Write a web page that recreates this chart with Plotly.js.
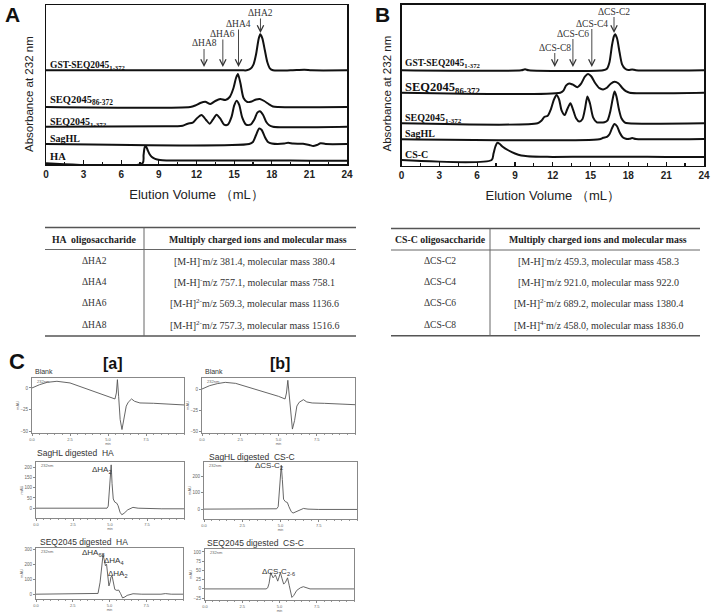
<!DOCTYPE html>
<html><head><meta charset="utf-8">
<script src="https://cdn.plot.ly/plotly-3.0.1.min.js"></script>
<style>html,body{margin:0;padding:0;background:#fff}#chart{width:713px;height:613px}</style>
</head><body><div id="chart"></div>
<script>
// ================= DATA =================
// Panel A: HA digests, elution volume (mL) vs relative absorbance at 232 nm
const aGstX   = [0, 10, 15.6, 16.0, 16.3, 16.55, 16.75, 16.95, 17.08, 17.25, 17.45, 17.65, 17.85, 18.1, 19.5, 20.6, 21.2, 24];
const aGstY   = [0, 0, 0, 0, 1.5, 6, 16, 31, 36, 32, 20, 8, 2, 0, 0, 0.6, 0, 0];
const aS86X   = [0, 11.5, 11.9, 12.3, 12.7, 13.1, 13.5, 13.9, 14.3, 14.65, 14.95, 15.15, 15.3, 15.5, 15.75, 16.05, 16.4, 16.75, 17.05, 17.4, 17.75, 18.1, 18.5, 24];
const aS86Y   = [0, 0, 1.5, 4, 5.3, 3, 6, 8, 7, 10, 19, 29, 33, 24, 9, 5, 5.5, 7.5, 8, 6, 3, 0.5, 0, 0];
const aS1X    = [0, 9.5, 10.5, 10.9, 11.3, 11.7, 12.0, 12.4, 12.75, 13.05, 13.3, 13.6, 13.9, 14.2, 14.5, 14.8, 15.0, 15.2, 15.4, 15.65, 15.95, 16.3, 16.6, 16.85, 17.05, 17.3, 17.55, 17.8, 18.1, 24];
const aS1Y    = [0, 0.5, 0.5, 1, 3, 4, 8, 11.7, 7, 3, 7, 12, 8, 2, 2, 10, 21, 26, 22, 9, 2, 2, 7, 14, 15.5, 12, 5, 1.5, 0, 0];
const aSagX   = [0, 16.2, 16.5, 16.75, 17.0, 17.2, 17.45, 17.7, 18.0, 19.0, 19.3, 19.7, 20.5, 21.0, 21.3, 21.6, 21.9, 22.3, 24];
const aSagY   = [0, 0, 2, 9, 15.5, 14, 7, 2, 0.5, 0.4, 1.3, 0.4, 0.2, -1, -2, -1, 0.8, 0, 0];
const aHaX    = [0, 7.7, 7.78, 7.88, 7.98, 8.1, 8.25, 8.42, 8.7, 9.09, 9.6, 10.5, 12, 15, 18, 21, 24];
const aHaY    = [0.7, 0.7, 9, 17, 17.3, 14, 10, 7.3, 5.2, 4, 3.6, 3.5, 3.4, 3.4, 3.5, 3.3, 3.3];
const aLabels = ['GST-SEQ2045<sub>1-372</sub>', 'SEQ2045<sub>86-372</sub>', 'SEQ2045<sub>1-372</sub>', 'SagHL', 'HA'];
const aPeakNames = ['ΔHA2', 'ΔHA4', 'ΔHA6', 'ΔHA8'];
const aPeakVol   = [17.1, 15.35, 14.1, 12.6];

// Panel B: CS-C digests
const bGstX   = [0, 9.5, 9.8, 10.1, 16.0, 16.3, 16.5, 16.7, 16.85, 16.95, 17.1, 17.3, 17.5, 17.75, 18.0, 18.3, 18.6, 24];
const bGstY   = [0, 0, 1, 0, 0, 1.5, 8, 25, 34, 36, 32, 18, 6, 1.5, 0.3, 0.8, 0, 0];
const bS86X   = [0, 12.6, 12.85, 13.05, 13.3, 13.6, 13.95, 14.25, 14.55, 14.8, 15.05, 15.35, 15.7, 16.0, 16.3, 16.6, 16.9, 17.2, 17.5, 17.8, 18.1, 24];
const bS86Y   = [0, 0, 2, 7, 9.3, 8, 5.5, 9, 16, 18.7, 16.5, 10, 4.5, 3.3, 5, 9, 11, 9.5, 5, 1.5, 0, 0];
const bS1X    = [0, 10.8, 11.1, 11.35, 11.6, 11.85, 12.1, 12.3, 12.5, 12.7, 12.95, 13.15, 13.4, 13.6, 13.85, 14.1, 14.35, 14.55, 14.75, 14.95, 15.2, 15.5, 15.8, 16.1, 16.35, 16.55, 16.75, 16.9, 17.05, 17.25, 17.45, 17.7, 18.0, 24];
const bS1Y    = [0, 0, 2.5, 6.5, 7.5, 14, 24, 28.3, 24, 13, 8.3, 14, 20, 14, 5, 1.7, 4, 14, 26.7, 20, 6, 1, 0.7, 1, 3, 11, 24, 31.7, 27, 14, 5, 1, 0, 0];
const bSagX   = [0, 15.7, 16.0, 16.3, 16.5, 16.7, 16.9, 17.1, 17.3, 17.55, 17.8, 18.1, 18.3, 18.6, 24];
const bSagY   = [0, 0, 1.5, 2.5, 5, 11, 15.3, 13, 7, 2, 0.5, 0.5, 1.2, 0.3, 0.3];
const bCscX   = [0, 7.15, 7.3, 7.45, 7.6, 7.8, 8.0, 8.5, 9.0, 9.5, 10.0, 11.0, 12, 15, 18, 21, 24];
const bCscY   = [5.5, 5.5, 12, 19, 22.8, 21.5, 19, 15, 12, 10, 9.3, 8.8, 8.6, 8.8, 8.8, 8.5, 8.5];
const bLabels = ['GST-SEQ2045<sub>1-372</sub>', 'SEQ2045<sub>86-372</sub>', 'SEQ2045<sub>1-372</sub>', 'SagHL', 'CS-C'];
const bPeakNames = ['ΔCS-C2', 'ΔCS-C4', 'ΔCS-C6', 'ΔCS-C8'];
const bPeakVol   = [16.86, 15.1, 13.6, 12.16];

// Tables
const haHeader = ['HA  oligosaccharide', 'Multiply charged ions and molecular mass'];
const haNames  = ['ΔHA2', 'ΔHA4', 'ΔHA6', 'ΔHA8'];
const haIons   = ['[M-H]<sup>-</sup>m/z 381.4, molecular mass 380.4',
                  '[M-H]<sup>-</sup>m/z 757.1, molecular mass 758.1',
                  '[M-H]<sup>2-</sup>m/z 569.3, molecular mass 1136.6',
                  '[M-H]<sup>2-</sup>m/z 757.3, molecular mass 1516.6'];
const csHeader = ['CS-C oligosaccharide', 'Multiply charged ions and molecular mass'];
const csNames  = ['ΔCS-C2', 'ΔCS-C4', 'ΔCS-C6', 'ΔCS-C8'];
const csIons   = ['[M-H]<sup>-</sup>m/z 459.3, molecular mass 458.3',
                  '[M-H]<sup>-</sup>m/z 921.0, molecular mass 922.0',
                  '[M-H]<sup>2-</sup>m/z 689.2, molecular mass 1380.4',
                  '[M-H]<sup>4-</sup>m/z 458.0, molecular mass 1836.0'];

// Panel C: HPLC traces (min vs mAU)
const cBlankAX = [0, 0.5, 1.0, 1.64, 2.5, 3.0, 3.5, 4.0, 4.5, 5.0, 5.46, 5.55, 5.62, 5.7, 5.8, 5.92, 6.05, 6.2, 6.33, 6.55, 6.75, 7.1, 8.0, 9.0, 10];
const cBlankAY = [0, 3.8, 6.5, 7.7, 5.8, 2.7, -0.4, -3.8, -6.9, -10, -12.7, -5.8, 9.6, -9.6, -36.5, -48, -36.5, -21, -16.5, -12.7, -15.4, -17.3, -17.7, -18.5, -19.6];
const cBlankBX = [0, 0.5, 1.0, 1.52, 2.2, 3.0, 4.0, 5.0, 5.43, 5.52, 5.61, 5.7, 5.8, 5.91, 6.05, 6.2, 6.35, 6.63, 6.85, 7.2, 8, 9, 10];
const cBlankBY = [0, 3.9, 6.3, 7.8, 6.6, 2.3, -3.5, -8.6, -11.7, -4.7, 10.2, -6.6, -34, -47, -37, -20, -15.6, -12.5, -15.2, -16.4, -16.8, -17.6, -18.4];
const cSagHaX  = [0, 2, 4, 4.8, 4.88, 4.95, 5.02, 5.08, 5.14, 5.22, 5.32, 5.45, 5.55, 5.68, 5.8, 5.95, 6.2, 6.55, 6.9, 7.5, 8.5, 10];
const cSagHaY  = [0, 0, 0, 0, 10, 90, 200, 212, 120, 45, 30, 25, 12, -20, -32, -25, -8, 4, 0, -2, -3, -3];
const cSagCsX  = [0, 2, 4, 4.75, 4.85, 4.93, 5.0, 5.05, 5.12, 5.2, 5.32, 5.45, 5.55, 5.7, 5.82, 5.95, 6.24, 6.5, 6.8, 7.5, 10];
const cSagCsY  = [0, 0, 0, 2, 15, 120, 250, 266, 180, 60, 45, 40, 15, -15, -24, -18, -4, 4, 0, -2, -2];
const cSeqHaX  = [0, 2, 4.1, 4.22, 4.36, 4.47, 4.56, 4.64, 4.72, 4.8, 4.88, 4.96, 5.04, 5.1, 5.18, 5.27, 5.36, 5.5, 5.62, 5.75, 5.89, 6.05, 6.2, 6.6, 7.2, 8.5, 8.8, 9.2, 10];
const cSeqHaY  = [0, 0, 0, 5, 80, 200, 262, 230, 190, 200, 130, 55, 80, 115, 120, 70, 32, 25, 28, 5, -25, -18, -8, 3, 0, 0, 4, 0, 0];
const cSeqCsX  = [0, 2, 4.1, 4.21, 4.3, 4.41, 4.5, 4.57, 4.65, 4.72, 4.8, 4.88, 4.97, 5.06, 5.17, 5.28, 5.4, 5.54, 5.65, 5.75, 5.83, 5.95, 6.16, 6.4, 6.6, 7.05, 8, 10];
const cSeqCsY  = [0, 0, 0, 3, 15, 44, 36, 30, 34, 38, 30, 21, 32, 44, 28, 13, 18, 30, 10, -15, -23, -18, -4, 3, 6, 0, 0, 0];
const cTitles  = ['Blank', 'SagHL digested  HA', 'SEQ2045 digested  HA', 'Blank', 'SagHL digested  CS-C', 'SEQ2045 digested  CS-C'];

// ================= LAYOUT HELPERS =================
const W = 713, H = 613;
const X = p => p / W, Y = p => 1 - p / H;
const SERIF = 'Liberation Serif, Times New Roman, serif';
const SANS = 'Liberation Sans, Arial, sans-serif';

const PA = {l: 46, r: 347, t: 5, b: 164};
const PB = {l: 401.5, r: 704, t: 4.5, b: 165.5};
const aOff = [164 - 70.3, 164 - 107, 164 - 126.7, 164 - 144, 0];
const bOff = [165.5 - 70.3, 165.5 - 92.7, 165.5 - 123.3, 165.5 - 139.3, 0];
const aLabelY = [65.5, 101, 122, 138.5, 156];
const bLabelY = [64, 87.5, 118, 134, 154.5];
const aLabelSize = [9.5, 10.5, 10, 10, 10.5];
const bLabelSize = [9.5, 12.5, 10, 10, 10];

function chromTrace(xs, hs, off, xa, ya, w) {
  return {type: 'scatter', mode: 'lines', x: xs, y: hs.map(v => v + off), xaxis: xa, yaxis: ya,
          line: {color: '#111', width: w, shape: 'spline', smoothing: 0.7}, hoverinfo: 'skip', showlegend: false};
}
function hplcTrace(xs, ys, xa, ya) {
  return {type: 'scatter', mode: 'lines', x: xs, y: ys, xaxis: xa, yaxis: ya,
          line: {color: '#555', width: 0.9, shape: 'linear'}, hoverinfo: 'skip', showlegend: false};
}

const traces = [
  chromTrace(aGstX, aGstY, aOff[0], 'x', 'y', 2),
  chromTrace(aS86X, aS86Y, aOff[1], 'x', 'y', 2),
  chromTrace(aS1X,  aS1Y,  aOff[2], 'x', 'y', 2),
  chromTrace(aSagX, aSagY, aOff[3], 'x', 'y', 2),
  chromTrace(aHaX,  aHaY,  aOff[4], 'x', 'y', 2),
  chromTrace(bGstX, bGstY, bOff[0], 'x2', 'y2', 2),
  chromTrace(bS86X, bS86Y, bOff[1], 'x2', 'y2', 2),
  chromTrace(bS1X,  bS1Y,  bOff[2], 'x2', 'y2', 2),
  chromTrace(bSagX, bSagY, bOff[3], 'x2', 'y2', 2),
  chromTrace(bCscX, bCscY, bOff[4], 'x2', 'y2', 2),
  hplcTrace(cBlankAX, cBlankAY, 'x3', 'y3'),
  hplcTrace(cSagHaX,  cSagHaY,  'x4', 'y4'),
  hplcTrace(cSeqHaX,  cSeqHaY,  'x5', 'y5'),
  hplcTrace(cBlankBX, cBlankBY, 'x6', 'y6'),
  hplcTrace(cSagCsX,  cSagCsY,  'x7', 'y7'),
  hplcTrace(cSeqCsX,  cSeqCsY,  'x8', 'y8')
];

function mainX(P, anchor) {
  return {domain: [X(P.l), X(P.r)], anchor: anchor, range: [0, 24], showline: true, mirror: true,
    linecolor: '#111', linewidth: 1.5, ticks: 'inside', ticklen: 4, tickwidth: 1.2, tickcolor: '#111',
    tick0: 0, dtick: 3, minor: {tick0: 0, dtick: 1.5, ticks: 'inside', ticklen: 2.5, tickcolor: '#111'},
    tickfont: {family: SANS, size: 10, color: '#222', weight: 'bold'}, showgrid: false, zeroline: false,
    automargin: false, fixedrange: true,
    title: {text: 'Elution Volume （mL）', font: {family: SANS, size: 13, color: '#222'}, standoff: 11}};
}
function mainY(P, anchor) {
  return {domain: [Y(P.b), Y(P.t)], anchor: anchor, range: [0, P.b - P.t], showline: true, mirror: true,
    linecolor: '#111', linewidth: 1.5, ticks: '', showticklabels: false, showgrid: false, zeroline: false,
    automargin: false, fixedrange: true};
}
function smallX(l, r, anchor) {
  return {domain: [X(l), X(r)], anchor: anchor, range: [0, 10], showline: true, mirror: true,
    linecolor: '#888', linewidth: 1, ticks: 'outside', ticklen: 2, tickcolor: '#888',
    tickmode: 'array', tickvals: [0, 2.5, 5, 7.5], ticktext: ['0.0', '2.5', '5.0', '7.5'],
    minor: {tickmode: 'linear', tick0: 0, dtick: 0.5, ticks: 'outside', ticklen: 1.2, tickcolor: '#999'},
    tickfont: {family: SANS, size: 4, color: '#666'}, showgrid: false, zeroline: false, automargin: false,
    fixedrange: true, title: {text: 'min', font: {family: SANS, size: 3.5, color: '#666'}, standoff: 1}};
}
function smallY(t, b, range, tv, anchor) {
  return {domain: [Y(b), Y(t)], anchor: anchor, range: range, showline: true, mirror: true,
    linecolor: '#888', linewidth: 1, ticks: 'outside', ticklen: 2, tickcolor: '#888',
    tickmode: 'array', tickvals: tv, tickfont: {family: SANS, size: 4.5, color: '#666'},
    showgrid: false, zeroline: false, automargin: false, fixedrange: true,
    title: {text: 'mAU', font: {family: SANS, size: 4, color: '#666'}, standoff: 1}};
}

// Panel C box geometry [left, right, top, bottom]
const cBox = [[32, 184, 378, 433], [36, 184, 462, 518], [36, 183, 548, 599],
              [202, 355, 378, 433], [204, 357, 462, 519], [205, 354, 549, 600]];
const cRange = [[-52, 11.5], [-48, 226], [-32, 308], [-51.6, 12.9], [-60, 286], [-30, 108]];
const cTicks = [[0, -25, -50], [0, 50, 100, 150, 200], [0, 100, 200, 300], [0, -25, -50], [0, 100, 200], [-25, 0, 25, 50, 75, 100]];

const layout = {
  width: W, height: H, margin: {l: 0, r: 0, t: 0, b: 0},
  paper_bgcolor: '#fff', plot_bgcolor: 'rgba(0,0,0,0)', showlegend: false,
  font: {family: SANS, color: '#222'},
  xaxis: mainX(PA, 'y'), yaxis: mainY(PA, 'x'),
  xaxis2: mainX(PB, 'y2'), yaxis2: mainY(PB, 'x2'),
  annotations: [], shapes: []
};
for (let i = 0; i < 6; i++) {
  const n = i + 3, bx = cBox[i];
  layout['xaxis' + n] = smallX(bx[0], bx[1], 'y' + n);
  layout['yaxis' + n] = smallY(bx[2], bx[3], cRange[i], cTicks[i], 'x' + n);
}

const ann = layout.annotations, shp = layout.shapes;
function txt(x, y, text, size, opts) {
  ann.push(Object.assign({xref: 'paper', yref: 'paper', x: X(x), y: Y(y), text: text, showarrow: false,
    xanchor: 'center', yanchor: 'middle', font: {family: SANS, size: size, color: '#222'}}, opts || {}));
}
function hline(x0, x1, y, w, c) {
  shp.push({type: 'line', xref: 'paper', yref: 'paper', x0: X(x0), x1: X(x1), y0: Y(y), y1: Y(y), line: {color: c, width: w}});
}
function vline(x, y0, y1, w, c) {
  shp.push({type: 'line', xref: 'paper', yref: 'paper', x0: X(x), x1: X(x), y0: Y(y0), y1: Y(y1), line: {color: c, width: w}});
}

// Panel letters and y titles
txt(12, 14, '<b>A</b>', 21, {borderpad: 0, font: {family: SANS, size: 21, color: '#111'}});
txt(382, 14, '<b>B</b>', 21, {borderpad: 0, font: {family: SANS, size: 21, color: '#111'}});
txt(17, 361, '<b>C</b>', 22, {font: {family: SANS, size: 22, color: '#111'}});
txt(113, 363, '<b>[a]</b>', 16, {font: {family: SANS, size: 16, color: '#111'}});
txt(280, 363, '<b>[b]</b>', 16, {font: {family: SANS, size: 16, color: '#111'}});
txt(29, 94, 'Absorbance at 232 nm', 11.5, {textangle: -90, font: {family: SANS, size: 11.5, color: '#222'}});
txt(386.5, 94, 'Absorbance at 232 nm', 11.5, {textangle: -90, font: {family: SANS, size: 11.5, color: '#222'}});

// Trace labels A/B
aLabels.forEach((t, i) => txt(47.5, aLabelY[i], '<b>' + t + '</b>', aLabelSize[i], {xanchor: 'left', font: {family: SERIF, size: aLabelSize[i], color: '#111'}}));
bLabels.forEach((t, i) => txt(403, bLabelY[i], '<b>' + t + '</b>', bLabelSize[i], {xanchor: 'left', font: {family: SERIF, size: bLabelSize[i], color: '#111'}}));

// Peak labels with arrows (label sits at the arrow tail)
const aTip = [33, 67, 67, 67], aLblY = [13, 24, 34, 43.5];
aPeakNames.forEach((t, i) => {
  ann.push({xref: 'x', yref: 'y', x: aPeakVol[i], y: PA.b - aTip[i], ax: 0, ay: aLblY[i] - aTip[i], text: t,
    font: {family: SERIF, size: 9.5, color: '#333'}, borderpad: 0, standoff: 0,
    showarrow: true, arrowhead: 5, arrowsize: 1.4, arrowwidth: 0.9, arrowcolor: '#333'});
});
const bTip = [33, 67, 67, 67], bLblY = [11.5, 23.5, 33.5, 47.5];
bPeakNames.forEach((t, i) => {
  ann.push({xref: 'x2', yref: 'y2', x: bPeakVol[i], y: PB.b - bTip[i], ax: 0, ay: bLblY[i] - bTip[i], text: t,
    font: {family: SERIF, size: 9.5, color: '#333'}, borderpad: 0, standoff: 0,
    showarrow: true, arrowhead: 5, arrowsize: 1.4, arrowwidth: 0.9, arrowcolor: '#333'});
});

// Tables
const rowY = [260.5, 281.7, 303.3, 324.5];
function table(x0, x1, xv, top, hdr, bot, c1, c2, c2h, header, names, ions) {
  hline(x0, x1, top, 1.5, '#555');
  hline(x0, x1, hdr, 1, '#666');
  hline(x0, x1, bot, 1.5, '#555');
  vline(xv, top, bot, 1, '#666');
  txt(c1, 239, '<b>' + header[0] + '</b>', 9.8, {font: {family: SERIF, size: 9.8, color: '#222'}});
  txt(c2h, 239, '<b>' + header[1] + '</b>', 9.8, {font: {family: SERIF, size: 9.8, color: '#222'}});
  names.forEach((t, i) => txt(c1, rowY[i], t, 9.5, {font: {family: SERIF, size: 9.5, color: '#333'}}));
  ions.forEach((t, i) => txt(c2, rowY[i], t, 10, {font: {family: SERIF, size: 10, color: '#333'}}));
}
table(45, 356, 144, 227.5, 249.5, 336, 94, 254, 258, haHeader, haNames, haIons);
table(391, 700, 490, 228.5, 250, 335.7, 440, 598, 598, csHeader, csNames, csIons);

// Panel C titles and labels
const cTitleXY = [[33, 371.5], [35, 453], [38, 542], [203, 371.5], [207, 456.5], [205, 543]];
cTitles.forEach((t, i) => txt(cTitleXY[i][0], cTitleXY[i][1], t, i % 3 === 0 ? 7 : 8.5, {xanchor: 'left', font: {family: SANS, size: i % 3 === 0 ? 7 : 8.5, color: '#333'}}));
cBox.forEach(b => txt(b[0] + 3, b[2] + 3.5, '232nm', 4, {xanchor: 'left', font: {family: SANS, size: 4, color: '#666'}}));
const cPeakLbl = [['ΔHA<sub>2</sub>', 101.7, 470], ['ΔCS-C<sub>2</sub>', 269, 466], ['ΔHA<sub>68</sub>', 93.3, 552.5],
                  ['ΔHA<sub>4</sub>', 113.8, 561], ['ΔHA<sub>2</sub>', 117.5, 574], ['ΔCS-C<sub>2-6</sub>', 278, 571.5]];
cPeakLbl.forEach(p => txt(p[1], p[2], p[0], 8, {font: {family: SANS, size: 8, color: '#333'}}));

Plotly.newPlot('chart', traces, layout, {staticPlot: true, displayModeBar: false});
</script>
</body></html>
